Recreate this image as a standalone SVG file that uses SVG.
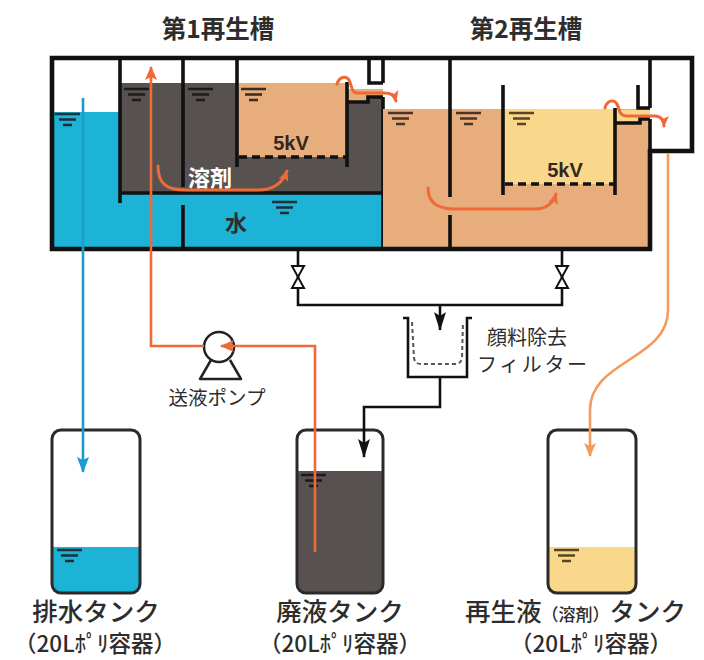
<svg xmlns="http://www.w3.org/2000/svg" width="704" height="660" viewBox="0 0 704 660">
  <style>
    .t { font-family: "Noto Sans CJK JP", "Noto Sans", sans-serif; fill: #2d2d2d; }
    .h { font-size: 24.5px; font-weight: 700; text-anchor: middle; }
    .lab { font-size: 25.5px; font-weight: 500; text-anchor: middle; }
    .sub { font-size: 22.5px; font-weight: 500; text-anchor: middle; }
    .kv { font-family: "Liberation Sans", "Noto Sans", sans-serif; font-size: 20px; font-weight: 700; fill: #33271f; text-anchor: middle; }
    .wall { fill: none; stroke: #111; stroke-width: 3.6; stroke-linecap: butt; }
    .frame { fill: none; stroke: #111; stroke-width: 4.6; stroke-linejoin: miter; }
    .elec { fill: none; stroke: #111; stroke-width: 3.6; stroke-dasharray: 8 5; }
    .pipe { fill: none; stroke: #111; stroke-width: 2.6; }
    .flow { fill: none; stroke: #ee6a37; stroke-width: 2.6; }
    .flowc { fill: none; stroke: #ee6a37; stroke-width: 3; stroke-linecap: round; }
    .tank { fill: none; stroke: #2a2a2a; stroke-width: 3; }
    .cyan { fill: #1cb3d6; }
    .dark { fill: #57514f; }
    .tan { fill: #e7ad7d; }
    .yel { fill: #fad88b; }
  </style>
  <defs>
    <!-- liquid level mark -->
    <g id="lvl" fill="none" stroke-width="2.3">
      <path d="M0 0H25M4 5.5H21M8 11H17"/>
    </g>
    <marker id="ahO" markerUnits="userSpaceOnUse" markerWidth="14" markerHeight="12" refX="13" refY="6" orient="auto">
      <path d="M0 0L14 6L0 12L3 6Z" fill="#ee6a37"/>
    </marker>
    <marker id="ahOs" markerUnits="userSpaceOnUse" markerWidth="11" markerHeight="10" refX="10" refY="5" orient="auto">
      <path d="M0 0L11 5L0 10L2.5 5Z" fill="#ee6a37"/>
    </marker>
    <marker id="ahL" markerUnits="userSpaceOnUse" markerWidth="14" markerHeight="12" refX="13" refY="6" orient="auto">
      <path d="M0 0L14 6L0 12L3 6Z" fill="#f39a5c"/>
    </marker>
    <marker id="ahB" markerUnits="userSpaceOnUse" markerWidth="16" markerHeight="12" refX="15" refY="6" orient="auto">
      <path d="M0 0L16 6L0 12L3 6Z" fill="#1c9bd0"/>
    </marker>
    <marker id="ahK" markerUnits="userSpaceOnUse" markerWidth="19" markerHeight="12" refX="18" refY="6" orient="auto">
      <path d="M0 0L19 6L0 12L4 6Z" fill="#111"/>
    </marker>
  </defs>

  <!-- headings -->
  <text class="t h" x="218" y="38">第1再生槽</text>
  <text class="t h" x="526" y="38">第2再生槽</text>

  <!-- regeneration tank 1 -->
  <g id="tank1">
    <rect class="cyan" x="52" y="112" width="68" height="137"/>
    <rect class="cyan" x="120" y="193" width="263" height="56"/>
    <rect class="dark" x="120" y="83" width="227" height="110"/>
    <path class="dark" d="M347 102H368V97H383V193H347Z"/>
    <path class="tan" d="M347 89H383V97H368V102H347Z"/>
    <rect class="tan" x="237" y="83" width="110" height="74"/>
    <use href="#lvl" x="55" y="114" stroke="#1d2f38"/>
    <use href="#lvl" x="124" y="89" stroke="#1c1a1a"/>
    <use href="#lvl" x="188" y="89" stroke="#1c1a1a"/>
    <use href="#lvl" x="241" y="89" stroke="#3a2a20"/>
    <use href="#lvl" x="272" y="202" stroke="#1d2f38"/>
    <path class="wall" d="M120 58V203M183 58V187M183 205V249M237 58V167M347 82V167M120 193H383M347 102H368V97H383M369 58V83H383M383 58V83M383 97V249"/>
    <path class="elec" d="M239 157H347"/>
    <text class="kv" x="291" y="150">5kV</text>
    <text class="t" x="210" y="186" font-size="22" font-weight="700" text-anchor="middle" style="fill:#fff">溶剤</text>
    <text class="t" x="236" y="231" font-size="22" font-weight="700" text-anchor="middle">水</text>
  </g>

  <!-- regeneration tank 2 -->
  <g id="tank2">
    <rect class="tan" x="383" y="109" width="267" height="140"/>
    <rect class="yel" x="503" y="109" width="112" height="75"/>
    <path class="yel" d="M615 110H650V119H640V123H615Z"/>
    <use href="#lvl" x="388" y="113" stroke="#4a3426"/>
    <use href="#lvl" x="456" y="113" stroke="#4a3426"/>
    <use href="#lvl" x="509" y="113" stroke="#5a4520"/>
    <path class="wall" d="M450 58V197M450 215V249M503 85V195M615 108V195M615 123H640V119H650M638 85V108H650M650 58V108M650 119V151"/>
    <path class="elec" d="M505 184H615"/>
    <text class="kv" x="565" y="177">5kV</text>
  </g>

  <!-- outer vessel frame with overflow box -->
  <path id="frame" class="frame" d="M650 151H692V58H52V249H650Z"/>

  <!-- drain valves and pigment removal filter -->
  <g id="valves">
    <path class="pipe" d="M298 251V305H562V251"/>
    <path d="M292 266H304L298 277ZM292 288H304L298 277Z" fill="#fff" stroke="#111" stroke-width="2"/>
    <path d="M556 266H568L562 277ZM556 288H568L562 277Z" fill="#fff" stroke="#111" stroke-width="2"/>
  </g>
  <g id="filter">
    <path class="pipe" d="M403 318H408V377H467V318H472"/>
    <path d="M412 322L414 358Q415 364 421 364H455Q461 364 462 358L463 322" fill="none" stroke="#555" stroke-width="2" stroke-dasharray="4 3"/>
    <text class="t" x="487" y="345" font-size="20">顔料除去</text>
    <text class="t" x="477" y="372" font-size="20" textLength="110">フィルター</text>
  </g>

  <!-- feed pump -->
  <g id="pump">
    <path d="M211 360L200 379H241L230 360" fill="#fff" stroke="#222" stroke-width="2.5" stroke-linejoin="round"/>
    <circle cx="219" cy="347" r="15" fill="#fff" stroke="#222" stroke-width="2.5"/>
    <text class="t" x="217" y="405" font-size="19.5" text-anchor="middle">送液ポンプ</text>
  </g>

  <!-- storage tanks -->
  <g id="drainTank">
    <path class="cyan" d="M52 547H140V584Q140 593 131 593H61Q52 593 52 584Z"/>
    <use href="#lvl" x="57" y="550" stroke="#1d2f38"/>
    <rect class="tank" x="52" y="430" width="88" height="163" rx="9"/>
    <text class="t lab" x="96" y="621">排水タンク</text>
    <text class="t sub" x="95" y="652">（20Lﾎﾟﾘ容器）</text>
  </g>
  <g id="wasteTank">
    <path class="dark" d="M297 471H383V584Q383 593 374 593H306Q297 593 297 584Z"/>
    <use href="#lvl" x="301" y="475" stroke="#1c1a1a"/>
    <rect class="tank" x="297" y="430" width="86" height="163" rx="9"/>
    <text class="t lab" x="340" y="621">廃液タンク</text>
    <text class="t sub" x="340" y="652">（20Lﾎﾟﾘ容器）</text>
  </g>
  <g id="solventTank">
    <path class="yel" d="M548 547H636V584Q636 593 627 593H557Q548 593 548 584Z"/>
    <use href="#lvl" x="554" y="550" stroke="#5a4520"/>
    <rect class="tank" x="548" y="430" width="88" height="163" rx="9"/>
    <text class="t" x="465" y="621" font-size="25.5" font-weight="500">再生液<tspan font-size="17">（溶剤）</tspan>タンク</text>
    <text class="t sub" x="591" y="652">（20Lﾎﾟﾘ容器）</text>
  </g>

  <!-- flow connectors -->
  <g id="connectors">
    <path d="M83 98V472" fill="none" stroke="#1c9bd0" stroke-width="2.6" marker-end="url(#ahB)"/>
    <path class="flow" d="M315 552V346H221" marker-end="url(#ahO)"/>
    <path class="flow" d="M204 346H151V67" marker-end="url(#ahO)"/>
    <path class="flowc" d="M158 166C158 184 167 190 185 190H258C274 190 283 182 287 171" marker-end="url(#ahOs)"/>
    <path class="flowc" d="M428 188C428 203 438 209 455 209H535C548 209 554 201 556 194" marker-end="url(#ahOs)"/>
    <path class="flowc" d="M337 84C339 77 346 75 349 80C352 86 351 93 358 93H385C392 93 395 97 396 101" marker-end="url(#ahOs)"/>
    <path class="flowc" d="M605 108C607 100 614 99 617 104C620 110 619 116 627 116H655C661 116 664 121 664 126" marker-end="url(#ahOs)"/>
    <path d="M668 153V310C668 360 590 360 590 410V456" fill="none" stroke="#f39a5c" stroke-width="2.6" marker-end="url(#ahL)"/>
    <path class="pipe" d="M440 305V330" marker-end="url(#ahK)"/>
    <path class="pipe" d="M440 378V407H364V457" marker-end="url(#ahK)"/>
  </g>
</svg>
